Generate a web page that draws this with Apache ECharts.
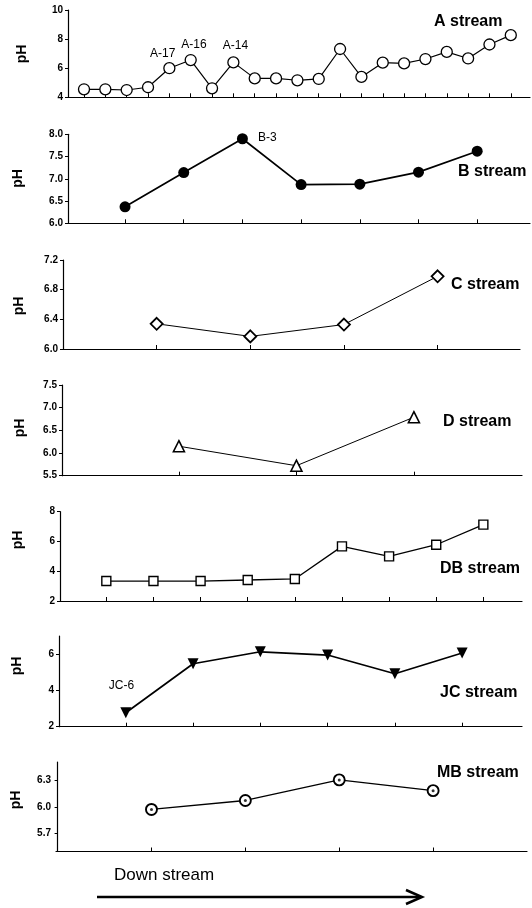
<!DOCTYPE html>
<html><head><meta charset="utf-8">
<script src="https://cdn.jsdelivr.net/npm/echarts@6/dist/echarts.min.js"></script>
<style>html,body{margin:0;padding:0;background:#fff}#c{width:532px;height:908px}</style>
</head><body><div id="c"></div>
<script>
// ---- data ----
const streamNames = ['A stream', 'B stream', 'C stream', 'D stream', 'DB stream', 'JC stream', 'MB stream'];
const phA = [4.55, 4.55, 4.5, 4.69, 6.0, 6.56, 4.62, 6.4, 5.3, 5.3, 5.17, 5.26, 7.32, 5.4, 6.38, 6.33, 6.63, 7.12, 6.67, 7.63, 8.27];
const phB = [6.37, 7.14, 7.90, 6.87, 6.88, 7.15, 7.62];
const phC = [6.34, 6.17, 6.33, 6.98];
const phD = [6.15, 5.72, 6.79];
const phDB = [3.34, 3.34, 3.34, 3.41, 3.48, 5.67, 5.0, 5.78, 7.13];
const phJC = [2.77, 5.47, 6.13, 5.95, 4.92, 6.06];
const phMB = [5.97, 6.07, 6.30, 6.18];
const yTicksA = [4, 6, 8, 10];
const yTicksB = [6.0, 6.5, 7.0, 7.5, 8.0];
const yTicksC = [6.0, 6.4, 6.8, 7.2];
const yTicksD = [5.5, 6.0, 6.5, 7.0, 7.5];
const yTicksDB = [2, 4, 6, 8];
const yTicksJC = [2, 4, 6];
const yTicksMB = [5.7, 6.0, 6.3];
const siteLabelText = ['A-17', 'A-16', 'A-14', 'B-3', 'JC-6'];
const siteLabelPanel = [0, 0, 0, 1, 5];
const siteLabelIndex = [4, 5, 7, 2, 0];
const yAxisTitle = 'pH';
const flowTitle = 'Down stream';

const allData = [phA, phB, phC, phD, phDB, phJC, phMB];
const allTicks = [yTicksA, yTicksB, yTicksC, yTicksD, yTicksDB, yTicksJC, yTicksMB];

// ---- layout / style ----
const layout = [
  {left:68, top:10,    width:462, height:87.3, xmin:0.25,  xmax:21.9, ymin:4,   ymax:10,  dec:0},
  {left:68, top:134.3, width:462, height:89,   xmin:0.028, xmax:7.9,  ymin:6,   ymax:8,   dec:1},
  {left:63, top:260,   width:457, height:89,   xmin:0,     xmax:4.88, ymin:6,   ymax:7.2, dec:1},
  {left:62, top:385,   width:460, height:90.7, xmin:0.005, xmax:3.92, ymin:5.5, ymax:7.5, dec:1},
  {left:60, top:511.7, width:462, height:89.3, xmin:0.017, xmax:9.82, ymin:2,   ymax:8,   dec:0},
  {left:59, top:636,   width:463, height:90.7, xmin:0.007, xmax:6.89, ymin:2,   ymax:7,   dec:0},
  {left:56, top:762,   width:471, height:89.5, xmin:-0.017,xmax:5.0,  ymin:5.5, ymax:6.5, dec:1}
];
const markers = [
  {symbol:'circle',   size:11, fill:'#fff', bw:1.3, lw:1.2},
  {symbol:'circle',   size:11, fill:'#000', bw:0, lw:1.7},
  {symbol:'diamond',  size:12, fill:'#fff', bw:1.8, lw:1.0},
  {symbol:'triangle', size:11, fill:'#fff', bw:1.6, lw:1.0},
  {symbol:'rect',     size:9,  fill:'#fff', bw:1.4, lw:1.3},
  {symbol:'triangle', size:11, fill:'#000', bw:0, lw:1.7, rotate:180},
  {symbol:'circle',   size:11, fill:'#fff', bw:1.9, lw:1.3}
];
const titlePos = [[434,22],[458,172],[451,285],[443,422],[440,569],[440,693],[437,773]];
const phPos = [[22,54],[18,178.5],[19,306],[20.5,428],[18,540],[17.5,666],[16.5,800]];
const siteOffsets = [[-6.7,-14.5],[3.3,-15.5],[2,-17],[25,-1.5],[-4.3,-26.7]];
const FONT = '"Liberation Sans", Arial, Helvetica, sans-serif';

const grids = [], xAxes = [], yAxes = [], series = [], graphics = [];
layout.forEach((L, p) => {
  const data = allData[p];
  const idx = data.map((_, i) => i + 1);
  grids.push({left:L.left, top:L.top, width:L.width, height:L.height, containLabel:false});
  xAxes.push({
    type:'value', gridIndex:p, min:L.xmin, max:L.xmax,
    axisLine:{show:true, onZero:false, lineStyle:{color:'#000', width:1.2}},
    axisTick:{show:true, inside:true, length:4, customValues:idx, lineStyle:{color:'#000', width:1}},
    axisLabel:{show:false}, splitLine:{show:false}
  });
  yAxes.push({
    type:'value', gridIndex:p, min:L.ymin, max:L.ymax,
    axisLine:{show:true, lineStyle:{color:'#000', width:1.2}},
    axisTick:{show:true, inside:false, length:3, customValues:allTicks[p], lineStyle:{color:'#000', width:1}},
    axisLabel:{show:true, customValues:allTicks[p], margin:5, color:'#000',
      fontFamily:FONT, fontWeight:'bold', fontSize:10,
      formatter:(v) => Number(v).toFixed(L.dec)},
    splitLine:{show:false}
  });
  const M = markers[p];
  const seriesData = data.map((v, i) => {
    const item = {value:[i + 1, v]};
    siteLabelText.forEach((t, k) => {
      if (siteLabelPanel[k] === p && siteLabelIndex[k] === i) {
        item.label = {show:true, position:'inside', formatter:t, offset:siteOffsets[k],
          color:'#000', fontFamily:FONT, fontSize:12};
      }
    });
    return item;
  });
  series.push({
    type:'line', xAxisIndex:p, yAxisIndex:p, data:seriesData,
    symbol:M.symbol, symbolSize:M.size, symbolRotate:M.rotate || 0, showAllSymbol:true,
    lineStyle:{color:'#000', width:M.lw},
    itemStyle:{color:M.fill, borderColor:'#000', borderWidth:M.bw},
    emphasis:{disabled:true}, animation:false, silent:true, z:3
  });
  if (p === 6) {
    series.push({
      type:'scatter', xAxisIndex:p, yAxisIndex:p, data:data.map((v, i) => [i + 1, v]),
      symbol:'circle', symbolSize:3, itemStyle:{color:'#000'}, animation:false, silent:true, z:4
    });
  }
  graphics.push({type:'text', x:titlePos[p][0], y:titlePos[p][1],
    style:{text:streamNames[p], fill:'#000', font:'bold 16px ' + FONT, align:'left', verticalAlign:'middle'}});
  graphics.push({type:'text', x:phPos[p][0], y:phPos[p][1], rotation:Math.PI / 2,
    style:{text:yAxisTitle, fill:'#000', font:'bold 14px ' + FONT, align:'center', verticalAlign:'middle'}});
});
graphics.push({type:'text', x:114, y:875,
  style:{text:flowTitle, fill:'#000', font:'17px ' + FONT, align:'left', verticalAlign:'middle'}});
graphics.push({type:'line', shape:{x1:97, y1:897, x2:421, y2:897}, style:{stroke:'#000', lineWidth:2.5}});
graphics.push({type:'polyline', shape:{points:[[406,890],[422,897],[406,904]]},
  style:{stroke:'#000', lineWidth:2.5, fill:null}});

const chart = echarts.init(document.getElementById('c'), null, {renderer:'canvas'});
chart.setOption({
  backgroundColor:'#fff', animation:false,
  grid:grids, xAxis:xAxes, yAxis:yAxes, series:series, graphic:graphics
});
</script></body></html>
